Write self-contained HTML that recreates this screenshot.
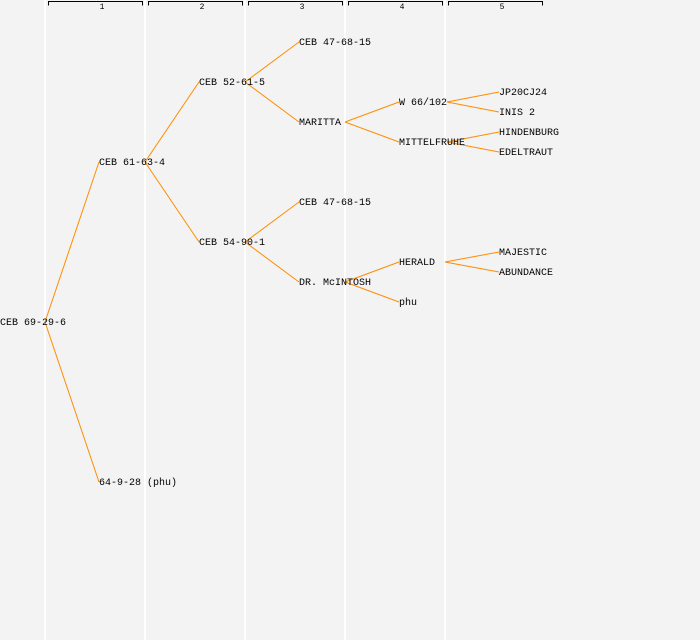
<!DOCTYPE html>
<html><head><style>
body{margin:0;background:#f3f3f3;}
svg{display:block}
text{font-family:"Liberation Mono",monospace;font-size:10px;fill:#000}
</style></head><body>
<svg width="700" height="640" xmlns="http://www.w3.org/2000/svg">
<rect width="700" height="640" fill="#f3f3f3"/>
<g stroke="#fff" stroke-width="2">
<line x1="45" y1="0" x2="45" y2="640"/><line x1="145" y1="0" x2="145" y2="640"/>
<line x1="245" y1="0" x2="245" y2="640"/><line x1="345" y1="0" x2="345" y2="640"/>
<line x1="445" y1="0" x2="445" y2="640"/>
</g>
<g stroke="#000" fill="none" stroke-width="1">
<path d="M48.5 5.5V1.5H142.5V5.5"/><path d="M148.5 5.5V1.5H242.5V5.5"/>
<path d="M248.5 5.5V1.5H342.5V5.5"/><path d="M348.5 5.5V1.5H442.5V5.5"/>
<path d="M448.5 5.5V1.5H542.5V5.5"/>
</g>
<g text-anchor="middle">
<text x="102" y="9" style="font-size:8px">1</text><text x="202" y="9" style="font-size:8px">2</text>
<text x="302" y="9" style="font-size:8px">3</text><text x="402" y="9" style="font-size:8px">4</text>
<text x="502" y="9" style="font-size:8px">5</text>
</g>
<g stroke="#ff8c00" stroke-width="1" fill="none">
<line x1="45" y1="322" x2="99" y2="162"/><line x1="45" y1="322" x2="99" y2="482"/>
<line x1="145" y1="162" x2="199" y2="82"/><line x1="145" y1="162" x2="199" y2="242"/>
<line x1="245" y1="82" x2="299" y2="42"/><line x1="245" y1="82" x2="299" y2="122"/>
<line x1="245" y1="242" x2="299" y2="202"/><line x1="245" y1="242" x2="299" y2="282"/>
<line x1="345" y1="122" x2="399" y2="102"/><line x1="345" y1="122" x2="399" y2="142"/>
<line x1="345" y1="282" x2="399" y2="262"/><line x1="345" y1="282" x2="399" y2="302"/>
<line x1="447" y1="102" x2="499" y2="92"/><line x1="447" y1="102" x2="499" y2="112"/>
<line x1="447" y1="142" x2="499" y2="132"/><line x1="447" y1="142" x2="499" y2="152"/>
<line x1="445" y1="262" x2="499" y2="252"/><line x1="445" y1="262" x2="499" y2="272"/>
</g>
<g>
<text x="0" y="325">CEB 69-29-6</text>
<text x="99" y="165">CEB 61-63-4</text>
<text x="99" y="485">64-9-28 (phu)</text>
<text x="199" y="85">CEB 52-61-5</text>
<text x="199" y="245">CEB 54-90-1</text>
<text x="299" y="45">CEB 47-68-15</text>
<text x="299" y="125">MARITTA</text>
<text x="299" y="205">CEB 47-68-15</text>
<text x="299" y="285">DR. McINTOSH</text>
<text x="399" y="105">W 66/102</text>
<text x="399" y="145">MITTELFRUHE</text>
<text x="399" y="265">HERALD</text>
<text x="399" y="305">phu</text>
<text x="499" y="95">JP20CJ24</text>
<text x="499" y="115">INIS 2</text>
<text x="499" y="135">HINDENBURG</text>
<text x="499" y="155">EDELTRAUT</text>
<text x="499" y="255">MAJESTIC</text>
<text x="499" y="275">ABUNDANCE</text>
</g>
</svg>
</body></html>
